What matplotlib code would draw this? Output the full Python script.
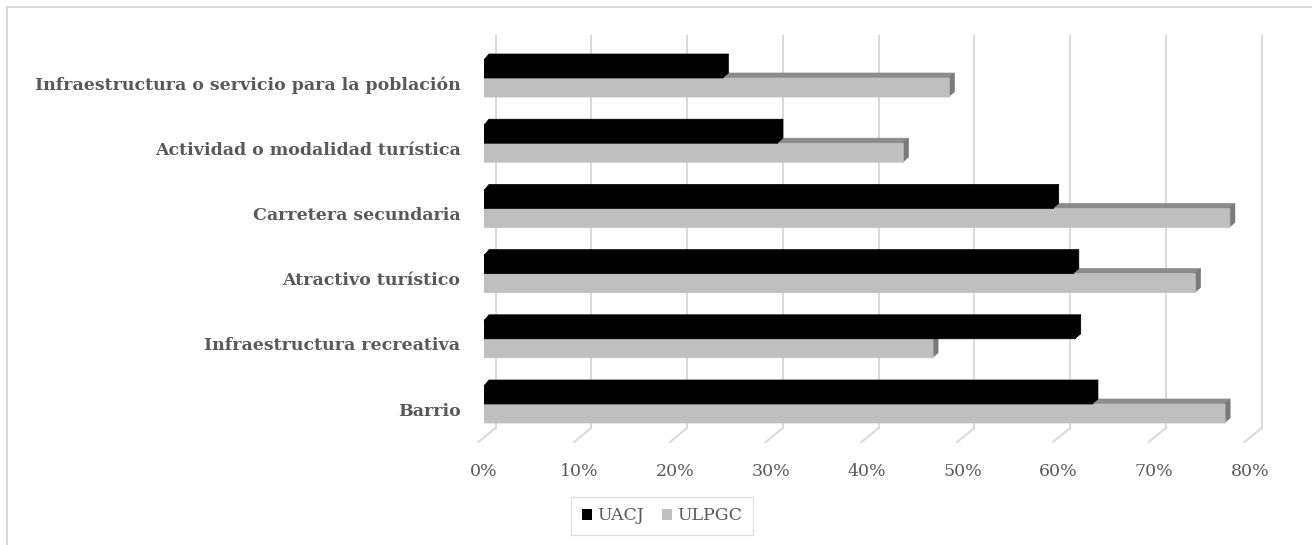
import matplotlib.pyplot as plt
from matplotlib.patches import Polygon, Rectangle
from matplotlib.transforms import ScaledTranslation

categories = ['Barrio', 'Infraestructura recreativa', 'Atractivo turístico',
              'Carretera secundaria', 'Actividad o modalidad turística',
              'Infraestructura o servicio para la población']
uacj = [63.6, 61.8, 61.6, 59.5, 30.7, 25.0]
ulpgc = [77.4, 46.9, 74.3, 77.9, 43.8, 48.6]
ticks = [0, 10, 20, 30, 40, 50, 60, 70, 80]
tick_labels = [f'{t}%' for t in ticks]

plt.rcParams['font.family'] = ['DejaVu Serif']

W, H, DPI = 1312, 545, 100
fig = plt.figure(figsize=(W / DPI, H / DPI), dpi=DPI)

# plot box in pixels: x 0..80 % over 484..1250, one category every 65.2 px
left, right, top, bottom = 484, 1250, 30, 430
row_px, base_px = 65.2, 404
ax = fig.add_axes([left / W, 1 - bottom / H, (right - left) / W, (bottom - top) / H])
ax.set_xlim(0, 80)
ax.set_ylim(-(bottom - base_px) / row_px, (base_px - top) / row_px)

sx = 80 / (right - left)     # data units per pixel, x
sy = 1 / row_px              # data units per pixel, y
depth_x, depth_y = 5 * sx, 5 * sy
bar_h = 19 * sy

grid_c = '#D9D9D9'
back = 11.5 * sx
y_grid_top = (base_px - 36) * sy
y_grid_bot = (base_px - 428) * sy
y_floor = (base_px - 442) * sy
for t in ticks:
    ax.plot([t + back, t + back], [y_grid_bot, y_grid_top], color=grid_c,
            lw=1.4, clip_on=False, zorder=0)
    ax.plot([t + back, t + back - 17 * sx], [y_grid_bot, y_floor], color=grid_c,
            lw=1.4, clip_on=False, zorder=0)


def box(value, y0, front, topc, side, z):
    y1 = y0 + bar_h
    lap = 1 * sy   # small overlap so the faces join without a seam
    ax.add_patch(Polygon([(0, y1 - lap), (value, y1 - lap), (value + depth_x, y1 + depth_y),
                          (depth_x, y1 + depth_y)], closed=True, fc=topc,
                         ec=topc, lw=0.5, zorder=z, clip_on=False))
    ax.add_patch(Polygon([(value - 1 * sx, y0), (value - 1 * sx, y1),
                          (value + depth_x, y1 + depth_y),
                          (value + depth_x, y0 + depth_y)], closed=True, fc=side,
                         ec=side, lw=0.5, zorder=z, clip_on=False))
    ax.barh(y0, value, height=bar_h, align='edge', color=front,
            edgecolor=front, lw=0.5, snap=False, zorder=z + 0.1)


for i in range(len(categories)):
    box(ulpgc[i], i - bar_h, '#BFBFBF', '#8C8C8C', '#7A7A7A', 2 + i * 0.5)
    box(uacj[i], i, '#000000', '#000000', '#000000', 2.25 + i * 0.5)

ax.set_xticks(ticks)
ax.set_xticklabels(tick_labels, fontsize=12.5, color='#595959')
ax.tick_params(axis='x', length=0, pad=24)
ax.set_yticks(range(len(categories)))
ax.set_yticklabels(categories, fontsize=12.5, fontweight='bold', color='#595959')
ax.tick_params(axis='y', length=0, pad=17)
shift = ScaledTranslation(0, -5 / DPI, fig.dpi_scale_trans)
for lab in ax.get_yticklabels():
    lab.set_transform(lab.get_transform() + shift)
for s in ax.spines.values():
    s.set_visible(False)

handles = [Rectangle((0, 0), 1, 1, fc='#000000'), Rectangle((0, 0), 1, 1, fc='#BFBFBF')]
leg = ax.legend(handles, ['UACJ', 'ULPGC'], loc='center', ncol=2,
                bbox_to_anchor=(662 / W, 1 - 516 / H), bbox_transform=fig.transFigure,
                fontsize=12.5, frameon=True, fancybox=False, edgecolor=grid_c,
                handlelength=0.6, handleheight=0.6, handletextpad=0.3,
                columnspacing=1.0, borderpad=0.6)
for txt in leg.get_texts():
    txt.set_color('#595959')

fig.patches.append(Rectangle((7 / W, -0.02), (1314 - 7) / W, 1.02 - 7 / H,
                             transform=fig.transFigure, fill=False,
                             ec=grid_c, lw=1.5))

fig.savefig('out.png', dpi=DPI)
